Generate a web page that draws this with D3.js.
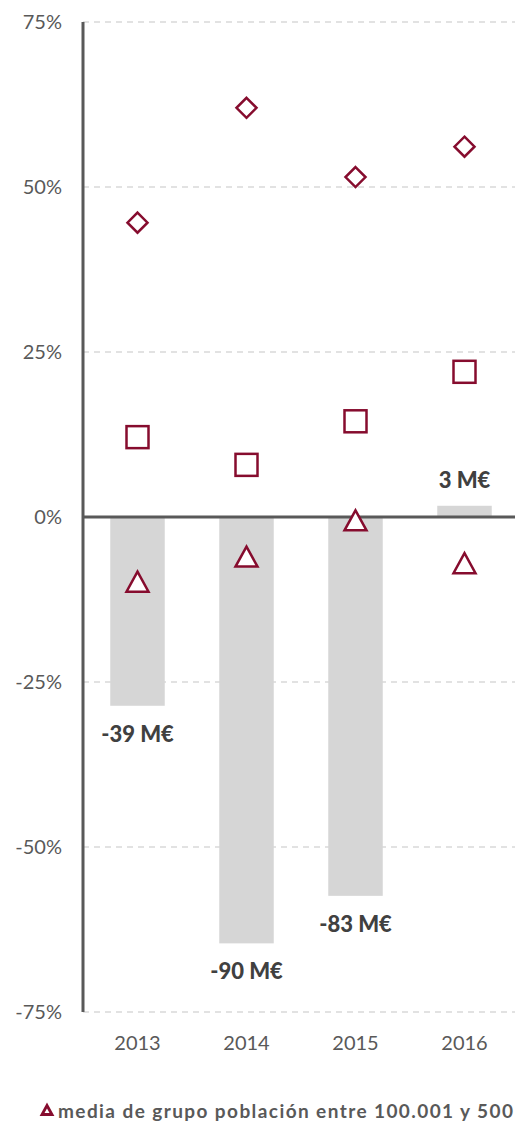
<!DOCTYPE html>
<html>
<head>
<meta charset="utf-8">
<script src="https://cdn.jsdelivr.net/npm/d3@7"></script>
<style>
  body { margin: 0; background: #fff; }
  svg text { font-family: Lato, "Open Sans", sans-serif; }
</style>
</head>
<body>
<div class="chart"></div>
<script>
// data
var years = ["2013", "2014", "2015", "2016"];
var barValues = [-28.6, -64.6, -57.4, 1.7];
var barLabels = ["-39 M€", "-90 M€", "-83 M€", "3 M€"];
var diamondValues = [44.6, 62.0, 51.5, 56.1];
var squareValues = [12.1, 7.9, 14.5, 22.0];
var triangleValues = [-9.8, -6.0, -0.5, -7.0];
var yTicks = [-75, -50, -25, 0, 25, 50, 75];
var legendText = "media de grupo población entre 100.001 y 500";

var width = 515, height = 1123;
var red = "#860c2e";

var svg = d3.select(".chart").append("svg")
    .attr("width", width)
    .attr("height", height);

var x = d3.scaleBand()
    .domain(years)
    .range([83, 519])
    .paddingInner(0.5)
    .paddingOuter(0.25);

var y = d3.scaleLinear()
    .domain([-75, 75])
    .range([1012, 22]);

// grid
svg.selectAll(".grid")
    .data(yTicks.filter(function(d){ return d !== 0; }))
    .enter().append("line")
    .attr("x1", 83).attr("x2", width)
    .attr("y1", function(d){ return y(d); })
    .attr("y2", function(d){ return y(d); })
    .attr("stroke", "#d9d9d9")
    .attr("stroke-width", 1.5)
    .attr("stroke-dasharray", "6,5");

// bars
svg.selectAll(".bar")
    .data(barValues)
    .enter().append("rect")
    .attr("x", function(d, i){ return x(years[i]); })
    .attr("width", x.bandwidth())
    .attr("y", function(d){ return y(Math.max(0, d)); })
    .attr("height", function(d){ return Math.abs(y(d) - y(0)); })
    .attr("fill", "#d6d6d6");

// bar labels
svg.selectAll(".blabel")
    .data(barValues)
    .enter().append("text")
    .attr("x", function(d, i){ return x(years[i]) + x.bandwidth() / 2; })
    .attr("y", function(d){ return d < 0 ? y(d) + 36 : y(d) - 18; })
    .attr("text-anchor", "middle")
    .attr("font-size", 22)
    .attr("font-weight", 900)
    .attr("fill", "#404040")
    .text(function(d, i){ return barLabels[i]; });

// zero line
svg.append("line")
    .attr("x1", 83).attr("x2", width)
    .attr("y1", y(0)).attr("y2", y(0))
    .attr("stroke", "#595959")
    .attr("stroke-width", 3);

// y axis line
svg.append("line")
    .attr("x1", 83).attr("x2", 83)
    .attr("y1", y(75)).attr("y2", y(-75))
    .attr("stroke", "#595959")
    .attr("stroke-width", 3);

// y tick labels
svg.selectAll(".ytick")
    .data(yTicks)
    .enter().append("text")
    .attr("x", 62)
    .attr("y", function(d){ return y(d); })
    .attr("dy", "0.35em")
    .attr("text-anchor", "end")
    .attr("font-size", 20)
    .attr("fill", "#595959")
    .text(function(d){ return d + "%"; });

// x labels
svg.selectAll(".xtick")
    .data(years)
    .enter().append("text")
    .attr("x", function(d){ return x(d) + x.bandwidth() / 2; })
    .attr("y", 1043)
    .attr("dy", "0.35em")
    .attr("text-anchor", "middle")
    .attr("font-size", 20)
    .attr("fill", "#595959")
    .text(function(d){ return d; });

function cx(i){ return x(years[i]) + x.bandwidth() / 2; }

// diamonds
svg.selectAll(".diamond")
    .data(diamondValues)
    .enter().append("path")
    .attr("d", "M0,-10L10,0L0,10L-10,0Z")
    .attr("transform", function(d, i){ return "translate(" + cx(i) + "," + y(d) + ")"; })
    .attr("fill", "#fff")
    .attr("stroke", red)
    .attr("stroke-width", 2.5);

// squares
svg.selectAll(".square")
    .data(squareValues)
    .enter().append("rect")
    .attr("x", function(d, i){ return cx(i) - 11; })
    .attr("y", function(d){ return y(d) - 11; })
    .attr("width", 22).attr("height", 22)
    .attr("fill", "#fff")
    .attr("stroke", red)
    .attr("stroke-width", 2.5);

// triangles
svg.selectAll(".triangle")
    .data(triangleValues)
    .enter().append("path")
    .attr("d", "M0,-10L11,10L-11,10Z")
    .attr("transform", function(d, i){ return "translate(" + cx(i) + "," + y(d) + ")"; })
    .attr("fill", "#fff")
    .attr("stroke", red)
    .attr("stroke-width", 2.5);

// legend
svg.append("path")
    .attr("d", "M0,-4.5L5,4.5L-5,4.5Z")
    .attr("transform", "translate(47,1110)")
    .attr("fill", "#fff")
    .attr("stroke", red)
    .attr("stroke-width", 2.8);

svg.append("text")
    .attr("x", 58)
    .attr("y", 1111)
    .attr("dy", "0.35em")
    .attr("font-size", 19)
    .attr("font-weight", "bold")
    .attr("fill", "#595959")
    .attr("textLength", 455)
    .attr("lengthAdjust", "spacing")
    .text(legendText);
</script>
</body>
</html>
